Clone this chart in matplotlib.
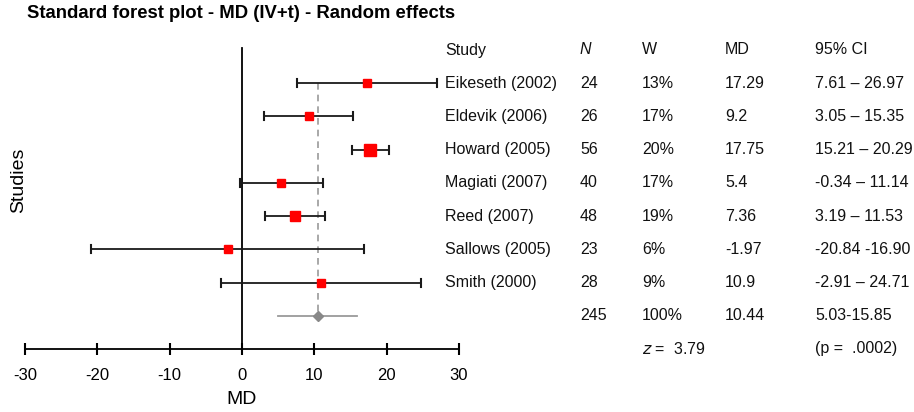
import numpy as np
import matplotlib
matplotlib.use("Agg")
import matplotlib.pyplot as plt
from matplotlib.transforms import blended_transform_factory

plt.rcParams["font.family"] = ["Liberation Sans", "DejaVu Sans"]

# study data
studies = ["Eikeseth (2002)", "Eldevik (2006)", "Howard (2005)", "Magiati (2007)",
           "Reed (2007)", "Sallows (2005)", "Smith (2000)"]
n_subj = [24, 26, 56, 40, 48, 23, 28]
weights = [13, 17, 20, 17, 19, 6, 9]
md = [17.29, 9.2, 17.75, 5.4, 7.36, -1.97, 10.9]
ci_lo = [7.61, 3.05, 15.21, -0.34, 3.19, -20.84, -2.91]
ci_hi = [26.97, 15.35, 20.29, 11.14, 11.53, 16.90, 24.71]
ci_text = ["7.61 \u2013 26.97", "3.05 \u2013 15.35", "15.21 \u2013 20.29",
           "-0.34 \u2013 11.14", "3.19 \u2013 11.53", "-20.84 -16.90", "-2.91 \u2013 24.71"]

# pooled estimate
pooled_n = 245
pooled_w = "100%"
pooled_md = 10.44
pooled_lo, pooled_hi = 5.03, 15.85
pooled_ci_text = "5.03-15.85"
z_value = 3.79
p_text = ".0002"

xticks = [-30, -20, -10, 0, 10, 20, 30]

W, H = 914, 412
fig = plt.figure(figsize=(W / 100, H / 100), dpi=100)

row0_px, row_step = 50, 33.22
k = len(studies)
y_axis_row = k + 2
ylim_top, ylim_bot = -0.75, y_axis_row + 0.75
top_px = row0_px + ylim_top * row_step
bot_px = row0_px + ylim_bot * row_step
ax = fig.add_axes([25 / W, 1 - bot_px / H, 434 / W, (bot_px - top_px) / H])
ax.set_xlim(-30, 30)
ax.set_ylim(ylim_bot, ylim_top)
ax.patch.set_alpha(0)
for s in ["top", "left", "right"]:
    ax.spines[s].set_visible(False)
ax.spines["bottom"].set_position(("data", y_axis_row))
ax.spines["bottom"].set_linewidth(1.3)
ax.set_xticks(xticks)
ax.set_xticklabels([str(t) for t in xticks])
ax.tick_params(axis="x", direction="inout", length=9, width=1.5, labelsize=12, pad=9)
ax.set_yticks([])

rows = np.arange(1, k + 1)

# zero line and pooled dashed line
ax.plot([0, 0], [-0.05, y_axis_row], color="black", lw=1.3, zorder=2)
ax.plot([pooled_md, pooled_md], [1, k + 1], color="#9a9a9a", lw=1.2,
        dashes=(4, 3), zorder=1)

# study CIs and markers
for i, r in enumerate(rows):
    ax.plot([ci_lo[i], ci_hi[i]], [r, r], color="#1a1a1a", lw=1.3, zorder=3)
    for xe in (ci_lo[i], ci_hi[i]):
        ax.plot([xe, xe], [r - 0.12, r + 0.12], color="#1a1a1a", lw=1.5, zorder=3)
    size_px = 8.5 + max(0, weights[i] - 17) * 1.2
    ax.plot(md[i], r, marker="s", ms=size_px * 0.72, color="#ff0000",
            mec="#ff0000", ls="none", zorder=4)

# pooled estimate
ax.plot([pooled_lo, pooled_hi], [k + 1, k + 1], color="#9a9a9a", lw=1.3, zorder=3)
ax.plot(pooled_md, k + 1, marker="D", ms=5.5, color="#888888", ls="none", zorder=4)

ax.set_xlabel("MD", fontsize=14, labelpad=6)

# table
tr = blended_transform_factory(fig.transFigure, ax.transData)
cols = {"study": 445, "n": 580, "w": 642, "md": 725, "ci": 815}
fs = 11.5
tc = "#111111"
ax.text(cols["study"] / W, 0, "Study", transform=tr, fontsize=fs, va="center", color=tc)
ax.text(cols["n"] / W, 0, "N", transform=tr, fontsize=fs, va="center", style="italic", color=tc)
ax.text(cols["w"] / W, 0, "W", transform=tr, fontsize=fs, va="center", color=tc)
ax.text(cols["md"] / W, 0, "MD", transform=tr, fontsize=fs, va="center", color=tc)
ax.text(cols["ci"] / W, 0, "95% CI", transform=tr, fontsize=fs, va="center", color=tc)
for i, r in enumerate(rows):
    ax.text(cols["study"] / W, r, studies[i], transform=tr, fontsize=fs, va="center", color=tc)
    ax.text(cols["n"] / W, r, str(n_subj[i]), transform=tr, fontsize=fs, va="center", color=tc)
    ax.text(cols["w"] / W, r, f"{weights[i]}%", transform=tr, fontsize=fs, va="center", color=tc)
    ax.text(cols["md"] / W, r, f"{md[i]:g}", transform=tr, fontsize=fs, va="center", color=tc)
    ax.text(cols["ci"] / W, r, ci_text[i], transform=tr, fontsize=fs, va="center", color=tc)

r = k + 1
ax.text(cols["n"] / W, r, str(pooled_n), transform=tr, fontsize=fs, va="center", color=tc)
ax.text(cols["w"] / W, r, pooled_w, transform=tr, fontsize=fs, va="center", color=tc)
ax.text(cols["md"] / W, r, f"{pooled_md:g}", transform=tr, fontsize=fs, va="center", color=tc)
ax.text(cols["ci"] / W, r, pooled_ci_text, transform=tr, fontsize=fs, va="center", color=tc)
ax.text(cols["w"] / W, y_axis_row, f"$z$ =  {z_value}", transform=tr, fontsize=fs,
        va="center", color=tc)
ax.text(cols["ci"] / W, y_axis_row, f"(p =  {p_text})", transform=tr, fontsize=fs,
        va="center", color=tc)

fig.text(27 / W, 1 - 14 / H, "Standard forest plot - MD (IV+t) - Random effects",
         fontsize=13.3, fontweight="bold", va="center", ha="left")
fig.text(19 / W, 1 - 180 / H, "Studies", fontsize=14, rotation=90,
         va="center", ha="center")

fig.savefig("out.png", dpi=100)
